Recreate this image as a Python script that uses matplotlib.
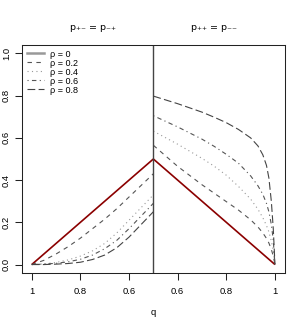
import matplotlib
matplotlib.use("Agg")
import matplotlib.pyplot as plt
from matplotlib.lines import Line2D
import numpy as np

plt.rcParams['font.family'] = ['Liberation Sans', 'DejaVu Sans']

# ---------------- data ----------------
# left panel: p+- = p-+ , q runs from 1 down to 0.5
q_left = [1.0, 0.95, 0.9, 0.85, 0.8, 0.75, 0.7, 0.65, 0.6, 0.55, 0.5]
left_rho0 = [0.0, 0.05, 0.1, 0.15, 0.2, 0.25, 0.3, 0.35, 0.4, 0.45, 0.5]
left_rho02 = [0, 0.02, 0.05, 0.085, 0.125, 0.17, 0.215, 0.265, 0.32, 0.375, 0.43]
left_rho04 = [0, 0.003, 0.01, 0.022, 0.04, 0.065, 0.1, 0.15, 0.21, 0.27, 0.33]
left_rho06 = [0, 0.002, 0.006, 0.013, 0.025, 0.045, 0.075, 0.115, 0.17, 0.23, 0.29]
left_rho08 = [0, 0.0, 0.002, 0.005, 0.011, 0.024, 0.045, 0.08, 0.13, 0.19, 0.25]

# right panel: p++ = p-- , q runs from 0.5 up to 1
q_right = [0.5, 0.6, 0.7, 0.75, 0.8, 0.85, 0.9, 0.93, 0.95, 0.965, 0.975, 0.985, 0.993, 1.0]
right_rho0 = [0.5, 0.4, 0.3, 0.25, 0.2, 0.15, 0.1, 0.07, 0.05, 0.035, 0.025, 0.015, 0.007, 0.0]
right_rho02 = [0.565, 0.465, 0.378, 0.338, 0.298, 0.258, 0.212, 0.178, 0.15, 0.124, 0.102, 0.072, 0.04, 0.0]
right_rho04 = [0.632, 0.57, 0.503, 0.466, 0.423, 0.37, 0.31, 0.262, 0.222, 0.185, 0.155, 0.112, 0.065, 0.0]
right_rho06 = [0.705, 0.652, 0.594, 0.56, 0.522, 0.48, 0.42, 0.373, 0.333, 0.29, 0.25, 0.19, 0.115, 0.0]
right_rho08 = [0.798, 0.762, 0.722, 0.698, 0.672, 0.64, 0.6, 0.562, 0.52, 0.47, 0.41, 0.3, 0.17, 0.0]

rho_labels = ['ρ = 0', 'ρ = 0.2', 'ρ = 0.4', 'ρ = 0.6', 'ρ = 0.8']
x_tick_labels = ['1', '0.8', '0.6', '0.6', '0.8', '1']
y_ticks = [0.0, 0.2, 0.4, 0.6, 0.8, 1.0]
panel_titles = ['p₊₋ = p₋₊', 'p₊₊ = p₋₋']

# ---------------- styling ----------------
styles = [
    dict(color='#8B0000', lw=1.2, ls='-'),
    dict(color='#555555', lw=0.8, ls=(0, (4, 4))),
    dict(color='#999999', lw=0.8, ls=(0, (1, 3))),
    dict(color='#555555', lw=0.8, ls=(0, (1, 3, 4, 3))),
    dict(color='#444444', lw=0.8, ls=(0, (7, 3))),
]
legend_styles = [dict(color='#999999', lw=1.8, ls='-')] + styles[1:]

fig = plt.figure(figsize=(2.89, 3.30), dpi=100)
ax = fig.add_axes([22 / 289, 1 - 273 / 330, (284.7 - 22) / 289, (273 - 45) / 330])

left_series = [left_rho0, left_rho02, left_rho04, left_rho06, left_rho08]
right_series = [right_rho0, right_rho02, right_rho04, right_rho06, right_rho08]

xl = 1 - np.array(q_left)      # left half: position = 1 - q
xr = np.array(q_right)          # right half: position = q
for vals, st in zip(left_series, styles):
    ax.plot(xl, vals, solid_capstyle='butt', **st)
for vals, st in zip(right_series, styles):
    ax.plot(xr, vals, solid_capstyle='butt', **st)

ax.axvline(0.5, color='#444444', lw=1.0)

ax.set_xlim(-0.04, 1.04)
ax.set_ylim(-0.04, 1.04)

ax.set_xticks([0.0, 0.2, 0.4, 0.6, 0.8, 1.0])
ax.set_xticklabels(x_tick_labels)
ax.set_yticks(y_ticks)
ax.set_yticklabels([f'{v:.1f}' for v in y_ticks], rotation=90, va='center')
ax.tick_params(axis='both', labelsize=6.8, length=5, width=0.75, color='#222222', direction='out')
ax.tick_params(axis='x', pad=5)
ax.tick_params(axis='y', pad=3)

for s in ax.spines.values():
    s.set_linewidth(0.75)
    s.set_color('#222222')

ax.set_xlabel('q', fontsize=6.8, labelpad=9)

ax.text(0.25, 1.075, panel_titles[0], transform=ax.get_xaxis_transform(),
        ha='center', va='center', fontsize=6.8, family=['DejaVu Sans'])
ax.text(0.75, 1.075, panel_titles[1], transform=ax.get_xaxis_transform(),
        ha='center', va='center', fontsize=6.8, family=['DejaVu Sans'])

handles = [Line2D([], [], **st) for st in legend_styles]
leg = ax.legend(handles, rho_labels, loc='upper left', bbox_to_anchor=(0.0, 1.0),
                frameon=False, fontsize=6.5, handlelength=1.9, handletextpad=0.7,
                labelspacing=0.0, borderaxespad=0.3, borderpad=0.2)

fig.savefig('out.png', dpi=100)
